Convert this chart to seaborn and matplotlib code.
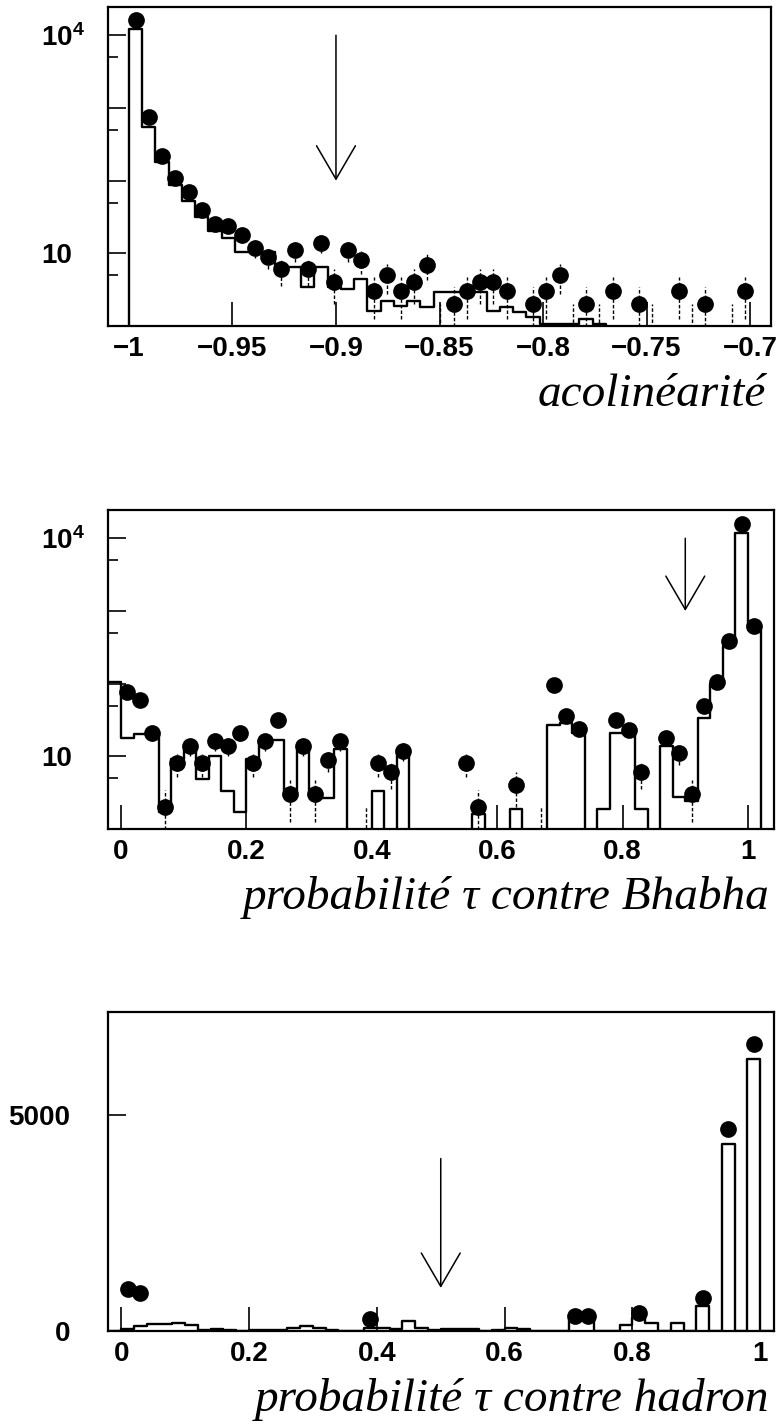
import numpy as np
import pandas as pd
import matplotlib
matplotlib.use("Agg")
import matplotlib.pyplot as plt
from matplotlib.ticker import FixedLocator, NullLocator, NullFormatter
import seaborn as sns

sns.set_style("white")
plt.rcParams["font.family"] = ["Liberation Sans", "DejaVu Sans"]
plt.rcParams["mathtext.fontset"] = "custom"
plt.rcParams["mathtext.rm"] = "Liberation Sans"
plt.rcParams["mathtext.bf"] = "Liberation Sans:bold"
plt.rcParams["mathtext.it"] = "Liberation Sans:italic"
for k in ["text.color", "axes.labelcolor", "xtick.color", "ytick.color", "axes.edgecolor"]:
    plt.rcParams[k] = "black"

# ---------------- panel 1 : acolinearity ----------------
acol_start = -1.0064
acol_width = 0.0064
acol_data = [0, 16400, 747, 215, 109, 69, 39, 25, 24, 18, 12, 9, 6, 11, 6, 14, 4, 11, 8,
             3, 5, 3, 4, 7, 1, 2, 3, 4, 4, 3, 0, 2, 3, 5, 1, 2, 1, 3, 0, 2, 1, 0, 3, 1,
             2, 0, 1, 3, 0, 0]
acol_mc = [0, 12300, 555, 180, 86, 52, 32, 20, 16, 10.5, 10.5, 10.5, 6.4, 6.4, 3.4, 6.4,
           3.4, 3.2, 4.4, 1.6, 2.2, 1.9, 2.2, 1.8, 2.95, 2.95, 2.95, 2.95, 1.6, 1.8, 1.55,
           1.35, 1.05, 1.05, 1.05, 1.25, 1.05, 0, 0, 0, 0, 0, 0, 0, 0, 0, 0, 0, 0, 0]
acol_xticks = [-1.0, -0.95, -0.9, -0.85, -0.8, -0.75, -0.7]
acol_xticklabels = ["\u22121", "\u22120.95", "\u22120.9", "\u22120.85", "\u22120.8",
                    "\u22120.75", "\u22120.7"]
acol_cut = -0.9

# ---------------- panel 2 : tau vs Bhabha ----------------
bhabha_start = -0.02
bhabha_width = 0.02
bhabha_data = [0, 77, 59, 21, 2, 8, 14, 8, 16, 14, 21, 8, 16, 32, 3, 14, 3, 9, 16, 0, 1,
               8, 6, 12, 0, 0, 0, 0, 8, 2, 0, 0, 4, 0, 1, 95, 36, 24, 0, 0, 32, 23, 6, 0,
               18, 11, 3, 49, 107, 385, 15500, 615, 0]
bhabha_mc = [105, 18, 20, 20, 1.7, 9.1, 14, 4.8, 10, 3.3, 1.7, 9.1, 17, 17, 2.8, 14, 2.8,
             2.7, 12.5, 0, 0, 3.3, 0, 12.5, 0, 0, 0, 0, 0, 1.6, 0, 0, 1.9, 0, 0, 27, 29,
             21, 0, 1.9, 21, 20, 1.9, 0, 14, 2.8, 2.4, 34, 100, 330, 11700, 550, 0]
prob_xticks = [0, 0.2, 0.4, 0.6, 0.8, 1.0]
prob_xticklabels = ["0", "0.2", "0.4", "0.6", "0.8", "1"]
bhabha_cut = 0.9

log_major = [10, 100, 1000, 10000]
log_major_labels = ["10", "", "", r"$\mathbf{10^{4}}$"]
log_minor = [5, 50, 500, 5000]

# ---------------- panel 3 : tau vs hadron ----------------
hadron_start = -0.02
hadron_width = 0.02
hadron_data = [0, 984, 877, 0, 0, 0, 0, 0, 0, 0, 0, 0, 0, 0, 0, 0, 0, 0, 0, 0, 287, 0, 0,
               0, 0, 0, 0, 0, 0, 0, 0, 0, 0, 0, 0, 0, 349, 349, 0, 0, 0, 426, 0, 0, 0, 0,
               775, 0, 4690, 0, 6653, 0]
hadron_mc = [0, 40, 116, 170, 160, 190, 140, 20, 50, 20, 0, 30, 20, 30, 80, 110, 80, 20,
             10, 0, 78, 60, 40, 230, 60, 20, 40, 50, 40, 10, 20, 60, 50, 10, 0, 0, 280,
             280, 0, 0, 140, 310, 194, 0, 194, 0, 581, 0, 4342, 0, 6320, 0]
hadron_yticks = [0, 5000]
hadron_yticklabels = ["0", "5000"]
hadron_cut = 0.5

SERIF = ["Liberation Serif", "DejaVu Serif"]
W, H = 782, 1427
fig = plt.figure(figsize=(W / 100, H / 100), dpi=100)
TICKFS = 20


def make_axes(left, right, top, bottom):
    return fig.add_axes([left / W, 1 - bottom / H, (right - left) / W, (bottom - top) / H])


def draw(ax, start, width, mc, data, log):
    mc = np.asarray(mc, float)
    data = np.asarray(data, float)
    edges = start + width * np.arange(len(mc) + 1)
    centers = 0.5 * (edges[:-1] + edges[1:])
    df = pd.DataFrame({"x": centers, "w": mc})
    sns.histplot(data=df, x="x", weights="w", bins=[float(e) for e in edges],
                 element="step", fill=False, color="black", linewidth=1.7, ax=ax)
    m_err = data > 0
    eb = ax.errorbar(centers[m_err], data[m_err], yerr=np.sqrt(data[m_err]), fmt="none",
                     ecolor="black", elinewidth=1.0, capsize=0, zorder=3)
    for lc in eb.lines[2]:
        lc.set_linestyle((0, (2.5, 1.5)))
    m_pt = data > (1 if log else 0)
    pts = pd.DataFrame({"x": centers[m_pt], "y": data[m_pt]})
    sns.scatterplot(data=pts, x="x", y="y", color="black", s=145, linewidth=0,
                    ax=ax, zorder=4, legend=False)
    ax.set_xlabel("")
    ax.set_ylabel("")


def style(ax, xticks, xlabels, xlim):
    ax.set_xlim(*xlim)
    ax.xaxis.set_major_locator(FixedLocator(xticks))
    ax.set_xticklabels(xlabels, fontsize=TICKFS, fontweight="bold")
    ax.xaxis.set_minor_locator(NullLocator())
    ax.tick_params(axis="x", which="major", direction="in", length=17, width=1.2,
                   pad=7, bottom=True, top=False)
    for s in ax.spines.values():
        s.set_linewidth(1.6)
        s.set_color("black")
        s.set_visible(True)


def log_y(ax):
    ax.set_yscale("log")
    ax.set_ylim(1, 2.45e4)
    ax.yaxis.set_major_locator(FixedLocator(log_major))
    ax.yaxis.set_minor_locator(FixedLocator(log_minor))
    ax.set_yticklabels(log_major_labels, fontsize=TICKFS, fontweight="bold", ha="left")
    ax.yaxis.set_minor_formatter(NullFormatter())
    ax.tick_params(axis="y", which="major", direction="in", length=13, width=1.2,
                   pad=48, left=True, right=False)
    ax.tick_params(axis="y", which="minor", direction="in", length=7, width=1.2,
                   left=True, right=False)


def arrow(ax, x, top, tip):
    ax.annotate("", xy=(x, tip), xytext=(x, top),
                arrowprops=dict(arrowstyle="->,head_length=1.2,head_width=0.7",
                                lw=1.1, color="black", shrinkA=0, shrinkB=0,
                                mutation_scale=20), zorder=5)


def xtitle(ax, text):
    ax.text(0.993, -80 / 319, text, transform=ax.transAxes, ha="right", va="baseline",
            fontsize=34, fontstyle="italic", family=SERIF)


# panel 1
ax1 = make_axes(108, 771, 7, 326)
draw(ax1, acol_start, acol_width, acol_mc, acol_data, True)
style(ax1, acol_xticks, acol_xticklabels, (-1.0101, -0.6899))
log_y(ax1)
arrow(ax1, acol_cut, 1e4, 100)
xtitle(ax1, "acolinéarité")

# panel 2
ax2 = make_axes(108, 774, 510, 829)
draw(ax2, bhabha_start, bhabha_width, bhabha_mc, bhabha_data, True)
style(ax2, prob_xticks, prob_xticklabels, (-0.0207, 1.0415))
log_y(ax2)
arrow(ax2, bhabha_cut, 1e4, 1000)
xtitle(ax2, "probabilité τ contre Bhabha")

# panel 3
ax3 = make_axes(108, 774, 1012, 1331)
draw(ax3, hadron_start, hadron_width, hadron_mc, hadron_data, False)
style(ax3, prob_xticks, prob_xticklabels, (-0.0207, 1.0215))
ax3.set_ylim(0, 7400)
ax3.yaxis.set_major_locator(FixedLocator(hadron_yticks))
ax3.set_yticklabels(hadron_yticklabels, fontsize=TICKFS, fontweight="bold")
ax3.yaxis.set_minor_locator(NullLocator())
ax3.tick_params(axis="y", which="major", direction="in", length=13, width=1.2,
                pad=27, left=True, right=False)
arrow(ax3, hadron_cut, 4000, 1000)
xtitle(ax3, "probabilité τ contre hadron")

fig.savefig("out.png", dpi=100)
